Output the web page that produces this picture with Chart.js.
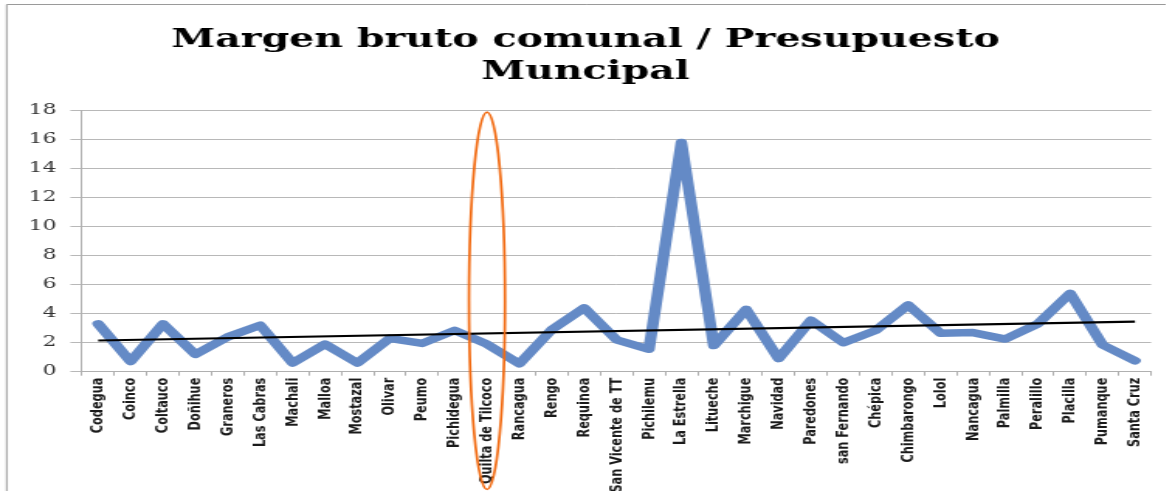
<!DOCTYPE html>
<html>
<head>
<meta charset="utf-8">
<script src="https://cdn.jsdelivr.net/npm/chart.js@4/dist/chart.umd.min.js"></script>
<style>
  html, body { margin: 0; padding: 0; background: #fff; overflow: hidden; }
  #grafico { display: block; width: 1175px !important; height: 491px !important; }
</style>
</head>
<body>
<canvas id="grafico" width="758" height="491" style="width:1175px;height:491px"></canvas>
<script>
// Comunas de la región
const comunas = [
  'Codegua', 'Coinco', 'Coltauco', 'Doñihue', 'Graneros', 'Las Cabras', 'Machali',
  'Malloa', 'Mostazal', 'Olivar', 'Peumo', 'Pichidegua', 'Quilta de Tilcoco',
  'Rancagua', 'Rengo', 'Requinoa', 'San Vicente de TT', 'Pichilemu', 'La Estrella',
  'Litueche', 'Marchigue', 'Navidad', 'Paredones', 'san Fernando', 'Chépica',
  'Chimbarongo', 'Lolol', 'Nancagua', 'Palmilla', 'Peralillo', 'Placilla',
  'Pumanque', 'Santa Cruz'
];

// Margen bruto comunal / presupuesto municipal
const margen = [
  3.3, 0.7, 3.3, 1.2, 2.4, 3.2, 0.6,
  1.9, 0.6, 2.3, 1.95, 2.85, 1.9,
  0.55, 2.9, 4.4, 2.2, 1.55, 15.8,
  1.8, 4.3, 0.9, 3.55, 2.0, 2.85,
  4.6, 2.65, 2.7, 2.25, 3.3, 5.4,
  1.85, 0.75
];

// Línea de tendencia: valor en la primera y en la última comuna
const tendencia = [2.15, 3.45];

// Eje vertical
const ejeY = { min: 0, max: 18, paso: 2 };

// Comuna destacada
const destacada = { indice: 12, tope: 17.9 };

const serieTendencia = comunas.map((_, i) =>
  i === 0 ? tendencia[0] : (i === comunas.length - 1 ? tendencia[1] : null));

const fondoYMarco = {
  id: 'fondoYMarco',
  beforeDraw(chart) {
    const ctx = chart.ctx;
    ctx.save();
    ctx.fillStyle = '#ffffff';
    ctx.fillRect(0, 0, chart.width, chart.height);
    ctx.strokeStyle = '#9a9a9a';
    ctx.lineWidth = 1;
    ctx.beginPath();
    ctx.moveTo(4.3, chart.height + 2);
    ctx.lineTo(4.3, 4.5);
    ctx.lineTo(chart.width - 6, 4.5);
    ctx.stroke();
    ctx.restore();
  },
  afterDraw(chart) {
    const ctx = chart.ctx;
    const x = chart.scales.x, y = chart.scales.y;
    const cx = x.getPixelForValue(destacada.indice);
    const top = y.getPixelForValue(destacada.tope);
    const bottom = chart.height - 1.5;
    ctx.save();
    ctx.strokeStyle = '#f26b12';
    ctx.lineWidth = 1.7;
    ctx.beginPath();
    ctx.ellipse(cx, (top + bottom) / 2, 11.6, (bottom - top) / 2, 0, 0, Math.PI * 2);
    ctx.stroke();
    ctx.restore();
  }
};

new Chart(document.getElementById('grafico'), {
  type: 'line',
  data: {
    labels: comunas,
    datasets: [
      {
        label: 'Tendencia',
        data: serieTendencia,
        borderColor: '#000000',
        borderWidth: 2.2,
        pointRadius: 0,
        spanGaps: true,
        order: 0
      },
      {
        label: 'Margen bruto / Presupuesto',
        data: margen,
        borderColor: 'rgb(100,138,198)',
        borderWidth: 7.5,
        pointRadius: 0,
        tension: 0,
        borderJoinStyle: 'round',
        borderCapStyle: 'round',
        order: 1
      }
    ]
  },
  options: {
    responsive: false,
    animation: false,
    events: [],
    layout: { padding: { left: 12.9, right: 15.4, top: 0, bottom: 0 } },
    plugins: {
      legend: { display: false },
      tooltip: { enabled: false },
      title: {
        display: true,
        text: ['Margen bruto comunal / Presupuesto', 'Muncipal'],
        color: '#000000',
        font: { family: 'DejaVu Serif', weight: 'bold', size: 25.5, lineHeight: 1.27 },
        padding: { top: 24, bottom: 21.9 }
      }
    },
    scales: {
      x: {
        offset: true,
        grid: { offset: true, drawOnChartArea: false, drawTicks: true, tickLength: 4, color: '#b0b0b0' },
        border: { display: true, color: '#b0b0b0' },
        ticks: {
          autoSkip: false, minRotation: 90, maxRotation: 90, padding: 2,
          color: '#1a1a1a',
          font: { family: 'DejaVu Sans', weight: 'bold', size: 11.3 }
        },
        afterFit(scale) { scale.height = 119.3; }
      },
      y: {
        min: ejeY.min, max: ejeY.max,
        grid: { color: '#b8b8b8', lineWidth: 1, tickLength: 7.5 },
        border: { display: true, color: '#b0b0b0' },
        ticks: {
          stepSize: ejeY.paso, padding: 9,
          color: '#333333',
          font: { family: 'DejaVu Serif', size: 14 }
        },
        afterFit(scale) { scale.width = 40; }
      }
    }
  },
  plugins: [fondoYMarco]
});
</script>
</body>
</html>
